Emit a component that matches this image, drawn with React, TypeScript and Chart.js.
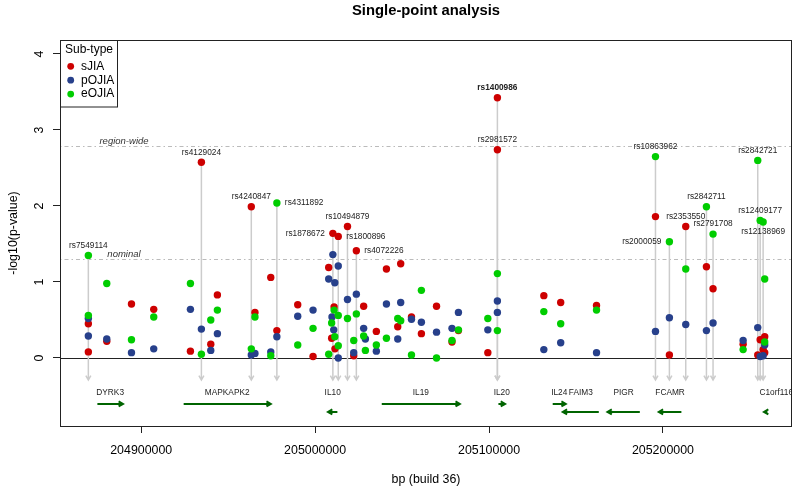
import React, { useEffect, useRef } from "react";
import { Chart, registerables } from "chart.js";
Chart.register(...registerables);

// ---------------- DATA ----------------
const xTickValues = [204900000, 205000000, 205100000, 205200000];
const yTickValues = [0, 1, 2, 3, 4];
const X_MIN = 204853300;
const X_MAX = 205274200;
const Y_MIN = -0.895;
const Y_MAX = 4.184;

const seriesNames = ["sJIA", "pOJIA", "eOJIA"];

const sJIA_bp = [
  204869600, 204869600, 204880200, 204894400, 204907200, 204928300, 204934600, 204940000,
  204943800, 204963300, 204965400, 204974500, 204978000, 204990000, 204998800, 205007800,
  205009500, 205010200, 205010900, 205011400, 205013300, 205018600, 205022200, 205023700,
  205027900, 205035200, 205041000, 205047500, 205049200, 205055400, 205061100, 205069800,
  205078700, 205082400, 205099300, 205104800, 205104800, 205131500, 205141200, 205161800,
  205195700, 205203700, 205213100, 205225000, 205228800, 205246100, 205254500, 205255900,
  205257600, 205258500, 205258500,
];
const sJIA_logp = [
  0.45, 0.08, 0.22, 0.71, 0.64, 0.09, 2.575, 0.18,
  0.83, 1.99, 0.6, 1.06, 0.36, 0.7, 0.02, 1.19,
  0.26, 1.64, 0.67, 0.12, 1.6, 1.73, 0.03, 1.41,
  0.68, 0.35, 1.17, 0.41, 1.24, 0.54, 0.32, 0.68,
  0.21, 0.36, 0.07, 3.425, 2.74, 0.82, 0.73, 0.69,
  1.86, 0.04, 1.73, 1.2, 0.91, 0.18, 0.04, 0.24,
  0.11, 0.28, 0.07,
];

const pOJIA_bp = [
  204869600, 204869600, 204880200, 204894400, 204907200, 204928300, 204934600, 204940000,
  204943800, 204963300, 204965400, 204974500, 204978000, 204990000, 204998800, 205007800,
  205009700, 205010200, 205010700, 205011300, 205013300, 205013300, 205018600, 205022200,
  205023700, 205027900, 205028900, 205035200, 205041000, 205047500, 205049200, 205055400,
  205061100, 205069800, 205078700, 205082400, 205099300, 205104800, 205104800, 205131500,
  205141200, 205161800, 205195700, 205203700, 205213100, 205225000, 205228800, 205246100,
  205254500, 205255900, 205257600, 205258500,
];
const pOJIA_logp = [
  0.52, 0.29, 0.25, 0.07, 0.12, 0.64, 0.38, 0.1,
  0.32, 0.04, 0.06, 0.08, 0.28, 0.55, 0.63, 1.04,
  0.54, 1.36, 0.37, 0.99, 1.21, 0.0, 0.77, 0.07,
  0.84, 0.39, 0.25, 0.09, 0.71, 0.25, 0.73, 0.51,
  0.47, 0.34, 0.39, 0.6, 0.37, 0.75, 0.6, 0.11,
  0.2, 0.07, 0.35, 0.53, 0.44, 0.36, 0.46, 0.23,
  0.4, 0.02, 0.03, 0.17,
];

const eOJIA_bp = [
  204869600, 204869600, 204880200, 204894400, 204907200, 204928300, 204934600, 204940000,
  204943800, 204963300, 204965400, 204974500, 204978000, 204990000, 204998800, 205007800,
  205009500, 205010900, 205011300, 205013300, 205013300, 205018600, 205022200, 205023700,
  205027900, 205028900, 205035200, 205041000, 205047500, 205049200, 205055400, 205061100,
  205069800, 205078700, 205082400, 205099300, 205104800, 205104800, 205131500, 205141200,
  205161800, 205195700, 205203700, 205213100, 205225000, 205228800, 205246100, 205254500,
  205255900, 205257600, 205258500, 205258500,
];
const eOJIA_logp = [
  1.35, 0.56, 0.98, 0.24, 0.54, 0.98, 0.05, 0.5,
  0.63, 0.12, 0.54, 0.03, 2.04, 0.17, 0.39, 0.05,
  0.46, 0.63, 0.28, 0.56, 0.16, 0.52, 0.23, 0.58,
  0.29, 0.1, 0.17, 0.26, 0.52, 0.49, 0.04, 0.89,
  0.0, 0.23, 0.37, 0.52, 1.11, 0.36, 0.61, 0.45,
  0.63, 2.65, 1.53, 1.17, 1.99, 1.63, 0.11, 2.6,
  1.81, 1.79, 1.04, 0.21,
];

// labelled SNPs
const snpNames = [
  "rs7549114", "rs4129024", "rs4240847", "rs4311892", "rs1878672", "rs10494879",
  "rs1800896", "rs4072226", "rs1400986", "rs2981572", "rs10863962", "rs2000059",
  "rs2353550", "rs2842711", "rs2791708", "rs2842721", "rs12409177", "rs12138969",
];
const snpBp = [
  204869600, 204934600, 204963300, 204978000, 205010200, 205018600,
  205013300, 205023700, 205104800, 205104800, 205195700, 205203700,
  205213100, 205225000, 205228800, 205254500, 205255900, 205257600,
];
const snpLogp = [
  1.35, 2.575, 1.99, 2.04, 1.64, 1.73,
  1.6, 1.41, 3.425, 2.74, 2.65, 1.53,
  1.73, 1.99, 1.63, 2.6, 1.81, 1.79,
];
const snpSide = [
  "above", "above", "above", "right", "left", "above",
  "right", "right", "above", "above", "above", "left",
  "above", "above", "above", "above", "above", "below",
];
const snpArrowTo = -0.29;

// thresholds
const thresholdNames = ["region-wide", "nominal"];
const thresholdValues = [2.79, 1.301];

// genes
const geneNames = ["DYRK3", "MAPKAPK2", "IL10", "IL19", "IL20", "IL24", "FAIM3", "PIGR", "FCAMR", "C1orf116"];
const geneStart = [204874800, 204924400, 205007400, 205038300, 205105400, 205136600, 205142400, 205168100, 205197600, 205258100];
const geneEnd = [204889500, 204974500, 205012800, 205083200, 205109200, 205144100, 205163100, 205186700, 205210600, 205260100];
const geneStrand = [1, 1, -1, 1, 1, 1, -1, -1, -1, -1];
const geneLabelBp = [204882150, 204949450, 205010100, 205060750, 205107300, 205140350, 205152750, 205177400, 205204100, 205265150];
const geneLabelY = -0.46;
const geneRowForward = -0.605;
const geneRowReverse = -0.71;

// ---------------- STYLE ----------------
const FAM = '"Liberation Sans", Arial, Helvetica, sans-serif';
const COLORS = ["#CD0000", "#27408B", "#00CD00"];
const font = (size: number, weight = "normal", style = "normal") => `${style} ${weight} ${size}px ${FAM}`;

function arrowHead(ctx: CanvasRenderingContext2D, x: number, y: number, angle: number, len: number) {
  const a1 = angle + Math.PI - Math.PI / 6;
  const a2 = angle + Math.PI + Math.PI / 6;
  ctx.moveTo(x + len * Math.cos(a1), y + len * Math.sin(a1));
  ctx.lineTo(x, y);
  ctx.lineTo(x + len * Math.cos(a2), y + len * Math.sin(a2));
}

const decorPlugin = {
  id: "decor",
  beforeDatasetsDraw(chart: any) {
    const { ctx, chartArea: a, scales } = chart;
    const xs = scales.x, ys = scales.y;
    ctx.save();
    ctx.beginPath();
    ctx.rect(a.left, a.top, a.right - a.left, a.bottom - a.top);
    ctx.clip();

    // threshold lines
    ctx.strokeStyle = "#BBBBBB";
    ctx.lineWidth = 1;
    ctx.setLineDash([1.5, 3, 4, 3]);
    thresholdValues.forEach((v) => {
      const py = Math.round(ys.getPixelForValue(v)) + 0.5;
      ctx.beginPath();
      ctx.moveTo(a.left, py);
      ctx.lineTo(a.right, py);
      ctx.stroke();
    });
    ctx.setLineDash([]);

    // threshold labels
    ctx.fillStyle = "#333";
    ctx.font = font(9.5, "normal", "italic");
    ctx.textAlign = "center";
    ctx.textBaseline = "middle";
    thresholdValues.forEach((v, i) => {
      const py = ys.getPixelForValue(v);
      ctx.fillText(thresholdNames[i], a.left + 64, py - 4.3);
    });

    // zero line
    ctx.strokeStyle = "#222";
    ctx.lineWidth = 1;
    const zy = Math.round(ys.getPixelForValue(0)) + 0.5;
    ctx.beginPath();
    ctx.moveTo(a.left, zy);
    ctx.lineTo(a.right, zy);
    ctx.stroke();

    // vertical lines to labelled SNPs
    ctx.strokeStyle = "#CCCCCC";
    ctx.lineWidth = 1.5;
    const yEnd = ys.getPixelForValue(snpArrowTo);
    snpBp.forEach((bp, i) => {
      const px = xs.getPixelForValue(bp);
      const py = ys.getPixelForValue(snpLogp[i]);
      ctx.beginPath();
      ctx.moveTo(px, py);
      ctx.lineTo(px, yEnd);
      arrowHead(ctx, px, yEnd, Math.PI / 2, 5);
      ctx.stroke();
    });

    // genes
    ctx.strokeStyle = "#006400";
    ctx.lineWidth = 2;
    geneNames.forEach((g, i) => {
      const x1 = xs.getPixelForValue(geneStart[i]);
      const x2 = xs.getPixelForValue(geneEnd[i]);
      const fwd = geneStrand[i] > 0;
      const py = ys.getPixelForValue(fwd ? geneRowForward : geneRowReverse);
      ctx.beginPath();
      if (fwd) {
        ctx.moveTo(x1, py);
        ctx.lineTo(x2, py);
        arrowHead(ctx, x2, py, 0, 5);
      } else {
        ctx.moveTo(x2, py);
        ctx.lineTo(x1, py);
        arrowHead(ctx, x1, py, Math.PI, 5);
      }
      ctx.stroke();
    });
    ctx.fillStyle = "#222";
    ctx.font = font(8.3);
    ctx.textAlign = "center";
    ctx.textBaseline = "middle";
    const gy = ys.getPixelForValue(geneLabelY);
    geneNames.forEach((g, i) => {
      ctx.fillText(g, xs.getPixelForValue(geneLabelBp[i]), gy);
    });
    ctx.restore();
  },
  afterDatasetsDraw(chart: any) {
    const { ctx, chartArea: a, scales } = chart;
    const xs = scales.x, ys = scales.y;
    ctx.save();
    // SNP labels
    ctx.fillStyle = "#222";
    ctx.textBaseline = "middle";
    snpNames.forEach((n, i) => {
      const px = xs.getPixelForValue(snpBp[i]);
      const py = ys.getPixelForValue(snpLogp[i]);
      ctx.font = font(8.3, n === "rs1400986" ? "bold" : "normal");
      const side = snpSide[i];
      if (side === "above") {
        ctx.textAlign = "center";
        ctx.fillText(n, px, py - 10);
      } else if (side === "below") {
        ctx.textAlign = "center";
        ctx.fillText(n, px, py + 10);
      } else if (side === "left") {
        ctx.textAlign = "right";
        ctx.fillText(n, px - 8, py);
      } else {
        ctx.textAlign = "left";
        ctx.fillText(n, px + 8, py);
      }
    });

    // legend
    const lx = a.left, ly = a.top;
    ctx.fillStyle = "#fff";
    ctx.fillRect(lx, ly, 57, 67);
    ctx.strokeStyle = "#222";
    ctx.lineWidth = 1;
    ctx.strokeRect(lx + 0.5, ly + 0.5, 57, 66.5);
    ctx.fillStyle = "#000";
    ctx.font = font(12);
    ctx.textAlign = "left";
    ctx.textBaseline = "middle";
    ctx.fillText("Sub-type", lx + 5, ly + 9.5);
    seriesNames.forEach((s, i) => {
      const yy = ly + 26.3 + i * 13.9;
      ctx.fillStyle = COLORS[i];
      ctx.beginPath();
      ctx.arc(lx + 10.7, yy, 3.4, 0, Math.PI * 2);
      ctx.fill();
      ctx.fillStyle = "#000";
      ctx.fillText(s, lx + 21, yy);
    });
    ctx.restore();
  },
  afterDraw(chart: any) {
    const { ctx, chartArea: a, scales } = chart;
    const ys = scales.y;
    ctx.save();
    // box
    ctx.strokeStyle = "#222";
    ctx.lineWidth = 1;
    ctx.strokeRect(a.left + 0.5, a.top + 0.5, a.right - a.left - 1, a.bottom - a.top);

    // y tick labels (rotated, R style)
    ctx.fillStyle = "#000";
    ctx.font = font(12.4);
    ctx.textAlign = "center";
    ctx.textBaseline = "middle";
    yTickValues.forEach((v) => {
      const py = ys.getPixelForValue(v);
      ctx.save();
      ctx.translate(a.left - 20.5, py);
      ctx.rotate(-Math.PI / 2);
      ctx.fillText(String(v), 0, 0);
      ctx.restore();
    });

    // y axis title
    ctx.save();
    ctx.translate(13.5, (a.top + a.bottom) / 2);
    ctx.rotate(-Math.PI / 2);
    ctx.fillText("-log10(p-value)", 0, 0);
    ctx.restore();

    // x axis title
    ctx.textBaseline = "alphabetic";
    ctx.fillText("bp (build 36)", (a.left + a.right) / 2, 483);

    // main title
    ctx.font = font(14.8, "bold");
    ctx.fillText("Single-point analysis", (a.left + a.right) / 2, 14.5);
    ctx.restore();
  },
};

function toPoints(xs: number[], ys: number[]) {
  return xs.map((x, i) => ({ x, y: ys[i] }));
}

export default function App() {
  const ref = useRef<HTMLCanvasElement | null>(null);
  useEffect(() => {
    if (!ref.current) return;
    const chart = new Chart(ref.current, {
      type: "scatter",
      data: {
        datasets: [
          { label: seriesNames[0], data: toPoints(sJIA_bp, sJIA_logp), backgroundColor: COLORS[0], borderWidth: 0, pointRadius: 3.7, pointHoverRadius: 3.7, order: 3 },
          { label: seriesNames[1], data: toPoints(pOJIA_bp, pOJIA_logp), backgroundColor: COLORS[1], borderWidth: 0, pointRadius: 3.7, pointHoverRadius: 3.7, order: 2 },
          { label: seriesNames[2], data: toPoints(eOJIA_bp, eOJIA_logp), backgroundColor: COLORS[2], borderWidth: 0, pointRadius: 3.7, pointHoverRadius: 3.7, order: 1 },
        ],
      },
      options: {
        animation: false,
        responsive: false,
        devicePixelRatio: 1,
        events: [],
        layout: { padding: { top: 40, right: 4, left: 0, bottom: 0 } },
        plugins: { legend: { display: false }, tooltip: { enabled: false }, title: { display: false } },
        scales: {
          x: {
            type: "linear",
            position: "bottom",
            min: X_MIN,
            max: X_MAX,
            afterFit: (s: any) => { s.height = 63; },
            afterBuildTicks: (s: any) => { s.ticks = xTickValues.map((v) => ({ value: v })); },
            ticks: {
              callback: (v: any) => String(v),
              font: { family: FAM, size: 12.4 },
              color: "#000",
              padding: 10,
              maxRotation: 0,
              minRotation: 0,
              autoSkip: false,
            },
            grid: { drawOnChartArea: false, drawTicks: true, tickLength: 7, color: "#222", lineWidth: 1 },
            border: { display: false },
          },
          y: {
            type: "linear",
            min: Y_MIN,
            max: Y_MAX,
            afterFit: (s: any) => { s.width = 60; },
            afterBuildTicks: (s: any) => { s.ticks = yTickValues.map((v) => ({ value: v })); },
            ticks: { display: false },
            grid: { drawOnChartArea: false, drawTicks: true, tickLength: 7, color: "#222", lineWidth: 1 },
            border: { display: false },
          },
        },
      } as any,
      plugins: [decorPlugin],
    });
    return () => chart.destroy();
  }, []);
  return (
    <div style={{ position: "absolute", left: 0, top: 0, width: 796, height: 489, background: "#fff" }}>
      <canvas ref={ref} width={796} height={489} style={{ display: "block" }} />
    </div>
  );
}
